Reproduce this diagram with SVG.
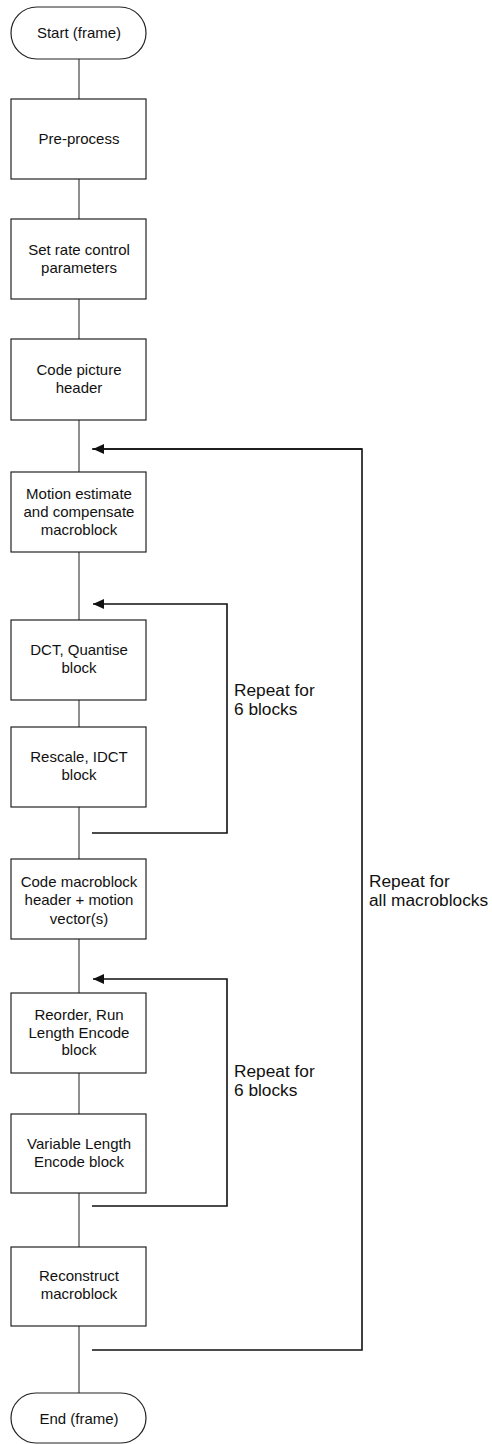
<svg xmlns="http://www.w3.org/2000/svg" width="492" height="1444" viewBox="0 0 492 1444">
<style>
.box{fill:#fff;stroke:#222;stroke-width:1.2}
.t{font-family:"Liberation Sans",Arial,sans-serif;font-size:15px;fill:#111;text-anchor:middle}
.lbl{font-family:"Liberation Sans",Arial,sans-serif;font-size:17.3px;fill:#111}
.flow{stroke:#333;stroke-width:1.1;fill:none}
.loop{stroke:#111;stroke-width:1.6;fill:none}
</style>
<defs>
<marker id="ah" markerWidth="12" markerHeight="10" refX="11" refY="5" orient="auto" markerUnits="userSpaceOnUse">
<path d="M0,0 L11,5 L0,10 Z" fill="#111"/>
</marker>
</defs>
<rect width="492" height="1444" fill="#fff"/>
<g id="connectors">
<path class="flow" d="M79,59V99 M79,179V219 M79,299V339 M79,420V472 M79,552V620 M79,700V727 M79,807V859 M79,939V993 M79,1073V1114 M79,1193V1247 M79,1326V1393"/>
<path class="loop" d="M92,449H362V1350H92" />
<path class="loop" d="M362,449H93" marker-end="url(#ah)"/>
<path class="loop" d="M92,833H227V604H93" marker-end="url(#ah)"/>
<path class="loop" d="M92,1206H227V979H93" marker-end="url(#ah)"/>
</g>
<g id="start"><rect class="box" x="11" y="7" width="135" height="52" rx="26" ry="26"/><text class="t" x="79" y="38">Start (frame)</text></g>
<g id="preprocess"><rect class="box" x="11" y="99" width="135" height="80"/><text class="t" x="79" y="144">Pre-process</text></g>
<g id="ratecontrol"><rect class="box" x="11" y="219" width="135" height="80"/><text class="t" x="79" y="255">Set rate control</text><text class="t" x="79" y="273">parameters</text></g>
<g id="pictureheader"><rect class="box" x="11" y="339" width="135" height="81"/><text class="t" x="79" y="375">Code picture</text><text class="t" x="79" y="393">header</text></g>
<g id="motion"><rect class="box" x="11" y="472" width="135" height="80"/><text class="t" x="79" y="499">Motion estimate</text><text class="t" x="79" y="517">and compensate</text><text class="t" x="79" y="535">macroblock</text></g>
<g id="dct"><rect class="box" x="11" y="620" width="135" height="80"/><text class="t" x="79" y="655">DCT, Quantise</text><text class="t" x="79" y="673">block</text></g>
<g id="idct"><rect class="box" x="11" y="727" width="135" height="80"/><text class="t" x="79" y="762">Rescale, IDCT</text><text class="t" x="79" y="780">block</text></g>
<g id="mbheader"><rect class="box" x="11" y="859" width="135" height="80"/><text class="t" x="79" y="887">Code macroblock</text><text class="t" x="79" y="905">header + motion</text><text class="t" x="79" y="924">vector(s)</text></g>
<g id="reorder"><rect class="box" x="11" y="993" width="135" height="80"/><text class="t" x="79" y="1020">Reorder, Run</text><text class="t" x="79" y="1038">Length Encode</text><text class="t" x="79" y="1055">block</text></g>
<g id="vle"><rect class="box" x="11" y="1114" width="135" height="79"/><text class="t" x="79" y="1149">Variable Length</text><text class="t" x="79" y="1167">Encode block</text></g>
<g id="reconstruct"><rect class="box" x="11" y="1247" width="135" height="79"/><text class="t" x="79" y="1281">Reconstruct</text><text class="t" x="79" y="1299">macroblock</text></g>
<g id="end"><rect class="box" x="11" y="1393" width="135" height="50" rx="25" ry="25"/><text class="t" x="79" y="1424">End (frame)</text></g>
<g id="labels">
<text class="lbl" x="234" y="696">Repeat for</text><text class="lbl" x="234" y="715">6 blocks</text>
<text class="lbl" x="234" y="1077">Repeat for</text><text class="lbl" x="234" y="1096">6 blocks</text>
<text class="lbl" x="369" y="887">Repeat for</text><text class="lbl" x="369" y="906">all macroblocks</text>
</g>
</svg>
